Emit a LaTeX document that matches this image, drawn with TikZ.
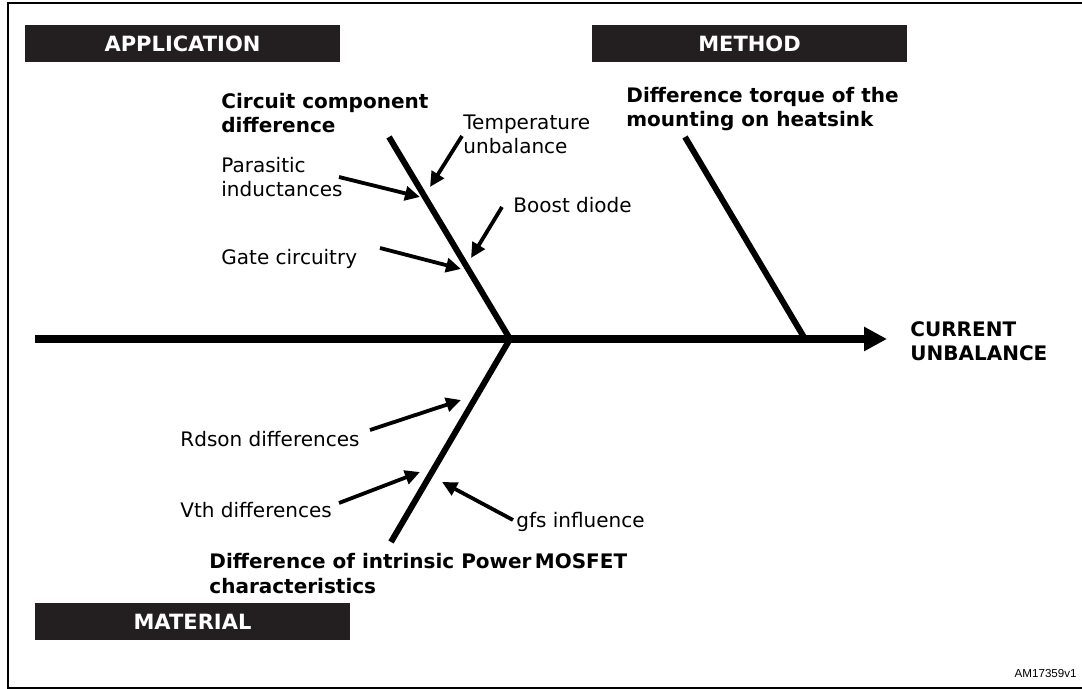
\documentclass[tikz,border=0pt]{standalone}
\usepackage{fontspec}
\setmainfont{DejaVu Sans}
\newfontfamily\arialfont{Liberation Sans}
\usetikzlibrary{arrows.meta}
\definecolor{boxc}{RGB}{35,31,32}
\begin{document}
\begin{tikzpicture}[x=0.5pt,y=-0.5pt,
  lbl/.style={inner sep=0pt, anchor=base west, align=left, font=\fontsize{10}{12}\selectfont},
  blbl/.style={lbl, font=\fontsize{10}{12.3}\selectfont\bfseries},
  catbox/.style={fill=boxc, draw=none, text=white, minimum width=157.5pt, minimum height=18.5pt, inner sep=0pt, text height=7.65pt, text depth=0pt, font=\fontsize{10.5}{12}\selectfont\bfseries},
  bone/.style={line width=3pt},
  spine/.style={line width=3.75pt, -{Triangle[length=11.5pt,width=11.5pt]}},
  cause/.style={line width=1.9pt, -{Triangle[length=7.5pt,width=7pt]}},
  frame/.style={line width=1pt}
]
\useasboundingbox (0,0) rectangle (1082,689);
\draw[frame] (1095,2.7) -- (8.2,2.7) -- (8.2,687.5) -- (1095,687.5);

% category boxes
\node[catbox] (app) at (182.5,43.5) {APPLICATION};
\node[catbox] (meth) at (749.5,43.5) {METHOD};
\node[catbox] (mat) at (192.5,621.5) {MATERIAL};

% skeleton coordinates
\coordinate (tail) at (35,339);
\coordinate (head) at (887,339);
\coordinate (jA) at (510,339);
\coordinate (jM) at (805,339);
\coordinate (topA) at (389,137);
\coordinate (topM) at (685,137);
\coordinate (botL) at (391,542);

\draw[bone] (topA) -- (jA) -- (botL);
\draw[bone] (topM) -- (jM);
\draw[spine] (tail) -- (head);

% labels (multi-line nodes are placed at the baseline of their last line)
\node[blbl] (ccd) at (221,133) {Circuit component\\difference};
\node[lbl] (temp) at (463,154) {Temperature\\unbalance};
\node[lbl] (para) at (221,197) {Parasitic\\inductances};
\node[lbl] (boost) at (513,213) {Boost diode};
\node[lbl] (gate) at (221,265) {Gate circuitry};
\node[blbl] (dtq) at (626,127) {Difference torque of the\\mounting on heatsink};
\node[blbl] (cu) at (910,361) {CURRENT\\UNBALANCE};
\node[lbl] (rds) at (180,447) {Rdson differences};
\node[lbl] (vth) at (180,517) {Vth differences};
\node[lbl] (gfs) at (516,528) {gfs influence};
\node[blbl] (dif) at (209,593) {Difference of intrinsic Power\,MOSFET\\characteristics};
\node[inner sep=0pt, anchor=base east, font=\arialfont\fontsize{5.8}{7}\selectfont] (code) at (1077,677) {AM17359v1};

% cause arrows
\coordinate (tempT) at (462,136); \coordinate (tempH) at (430,187);
\coordinate (paraT) at (339,177); \coordinate (paraH) at (420,197);
\coordinate (boostT) at (502,207); \coordinate (boostH) at (471,258);
\coordinate (gateT) at (380,248); \coordinate (gateH) at (461,269);
\coordinate (rdsT) at (370,430); \coordinate (rdsH) at (461,400);
\coordinate (vthT) at (339,503); \coordinate (vthH) at (420,472);
\coordinate (gfsT) at (513,520); \coordinate (gfsH) at (442,482);

\draw[cause] (tempT) -- (tempH);
\draw[cause] (paraT) -- (paraH);
\draw[cause] (boostT) -- (boostH);
\draw[cause] (gateT) -- (gateH);
\draw[cause] (rdsT) -- (rdsH);
\draw[cause] (vthT) -- (vthH);
\draw[cause] (gfsT) -- (gfsH);
\end{tikzpicture}
\end{document}
